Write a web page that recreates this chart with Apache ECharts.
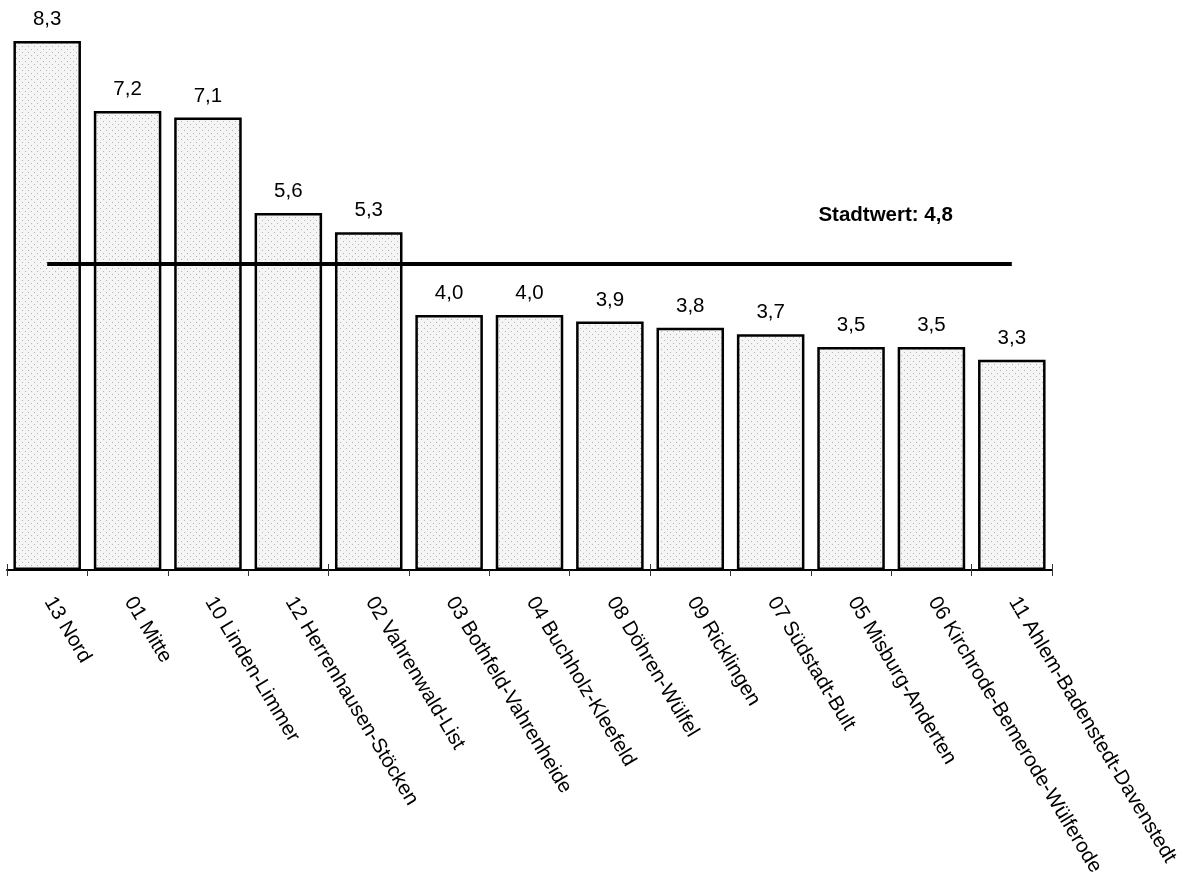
<!DOCTYPE html>
<html><head><meta charset="utf-8">
<script src="https://cdn.jsdelivr.net/npm/echarts@6/dist/echarts.min.js"></script>
<style>html,body{margin:0;padding:0;background:#fff}#c{width:1190px;height:881px}</style>
</head><body><div id="c"></div>
<script>
const categories = ["13 Nord","01 Mitte","10 Linden-Limmer","12 Herrenhausen-Stöcken","02 Vahrenwald-List","03 Bothfeld-Vahrenheide","04 Buchholz-Kleefeld","08 Döhren-Wülfel","09 Ricklingen","07 Südstadt-Bult","05 Misburg-Anderten","06 Kirchrode-Bemerode-Wülferode","11 Ahlem-Badenstedt-Davenstedt"];
const values = [8.3,7.2,7.1,5.6,5.3,4.0,4.0,3.9,3.8,3.7,3.5,3.5,3.3];
const cityValue = 4.8;
const cityLabel = "Stadtwert";

const pc = document.createElement('canvas');
pc.width = 6; pc.height = 6;
const g = pc.getContext('2d');
g.fillStyle = '#f5f5f5'; g.fillRect(0,0,6,6);
g.fillStyle = '#b4b4b4';
g.fillRect(1,1,1,1); g.fillRect(4,4,1,1);

const FONT = 'Liberation Sans, Arial, sans-serif';
const fmt = v => v.toFixed(1).replace('.', ',');
const chart = echarts.init(document.getElementById('c'), null, {renderer:'canvas'});
chart.setOption({
  animation:false,
  grid:{left:7,right:138,top:41,bottom:311,containLabel:false},
  xAxis:[{type:'category',data:categories,
    axisLine:{show:true,lineStyle:{color:'#000',width:2}},
    axisTick:{show:true,length:6,lineStyle:{color:'#333',width:1}},
    axisLabel:{rotate:-59,interval:0,margin:26,color:'#000',fontFamily:FONT,fontSize:20.5,padding:[0,0,0,3]}},
   {type:'category',data:categories,position:'bottom',
    axisLine:{show:false},
    axisTick:{show:true,inside:true,length:6,lineStyle:{color:'#333',width:1}},
    axisLabel:{show:false}}],
  yAxis:{type:'value',min:0,max:8.3,show:false,splitLine:{show:false}},
  series:[{type:'bar',data:values,barCategoryGap:'16%',
    itemStyle:{color:{image:pc,repeat:'repeat'},borderColor:'#000',borderWidth:2.5},
    label:{show:true,position:'top',distance:11,color:'#000',fontFamily:FONT,fontSize:20.5,formatter:p=>fmt(p.value)},
    markLine:{silent:true,symbol:['none','none'],
      lineStyle:{color:'#000',width:4,type:'solid'},
      label:{show:true,position:'insideEndTop',color:'#000',fontWeight:'bold',fontFamily:FONT,fontSize:20.5,
        offset:[-54,-33],formatter:()=>cityLabel+': '+fmt(cityValue)},
      data:[[{xAxis:categories[0],yAxis:cityValue},{xAxis:categories[categories.length-1],yAxis:cityValue}]]}
  }]
});
</script></body></html>
